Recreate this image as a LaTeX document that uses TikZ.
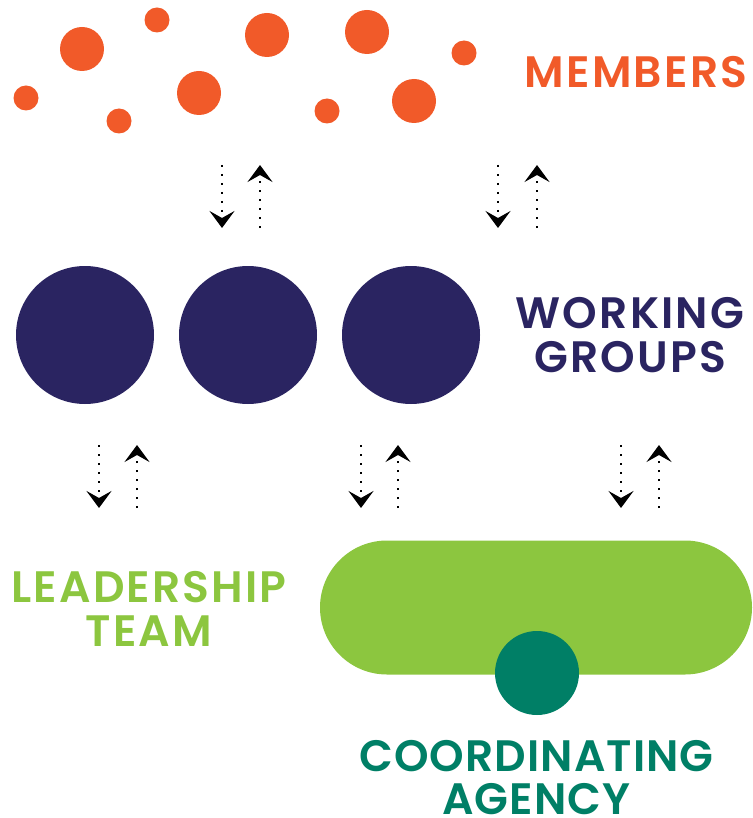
\documentclass[tikz,border=0pt]{standalone}
\usepackage{fontspec}
\setmainfont{Poppins}[BoldFont={Poppins SemiBold},LetterSpace=5]
\usetikzlibrary{arrows.meta}
\definecolor{morange}{HTML}{F15A29}
\definecolor{mnavy}{HTML}{2A2461}
\definecolor{mgreen}{HTML}{8CC63F}
\definecolor{mteal}{HTML}{007F66}
\begin{document}
\begin{tikzpicture}[x=1pt,y=-1pt,
  dot/.style={circle,fill=morange,inner sep=0pt,minimum size=#1},
  wg/.style={circle,fill=mnavy,inner sep=0pt,minimum size=138pt},
  lbl/.style={font=\fontsize{44}{44}\selectfont\bfseries,align=center,inner sep=0pt},
  flow/.style={line width=2.4pt,dash pattern=on 2.4pt off 6.6pt,
    -{Stealth[length=17pt,width=25pt,inset=7pt]}}]
\useasboundingbox (0,0) rectangle (752,818);
% members
\node[dot=44pt] (m1) at (82,49) {};
\node[dot=25pt] (m2) at (157,20) {};
\node[dot=44pt] (m3) at (267,35) {};
\node[dot=44pt] (m4) at (367,32) {};
\node[dot=25pt] (m5) at (464,53) {};
\node[dot=25pt] (m6) at (26,98) {};
\node[dot=25pt] (m7) at (119,121) {};
\node[dot=44pt] (m8) at (199,93) {};
\node[dot=25pt] (m9) at (327,111) {};
\node[dot=44pt] (m10) at (414,101) {};
\node[lbl,text=morange,anchor=base] (tm) at (636,88) {MEMBERS};
% working groups
\node[wg] (w1) at (85,335) {};
\node[wg] (w2) at (248,335) {};
\node[wg] (w3) at (411,335) {};
\node[lbl,text=mnavy] (tw) at (630,335.5) {WORKING\\GROUPS};
% leadership / coordinating
\node[fill=mgreen,minimum width=432pt,minimum height=134pt,rounded corners=67pt,inner sep=0pt] (lead) at (536,607.5) {};
\node[circle,fill=mteal,minimum size=84pt,inner sep=0pt] (coord) at (537,673) {};
\node[lbl,text=mgreen] (tl) at (149,609) {LEADERSHIP\\TEAM};
\node[lbl,text=mteal,font=\fontsize{44}{43}\selectfont\bfseries\addfontfeature{LetterSpace=2.5}] (tc) at (536.5,777.5) {COORDINATING\\AGENCY};
% arrow end points
\foreach \n/\xd/\xu/\yt/\yb in {a/222/260/165/228, b/498/537/165/228,
  c/99/137/445/508, d/361/398/445/508, e/621/659/445/508}{
  \coordinate (\n ds) at (\xd,\yt);
  \coordinate (\n de) at (\xd,\yb);
  \coordinate (\n us) at (\xu,\yb);
  \coordinate (\n ue) at (\xu,\yt);
  \draw[flow] (\n ds) -- (\n de);
  \draw[flow] (\n us) -- (\n ue);
}
\end{tikzpicture}
\end{document}
